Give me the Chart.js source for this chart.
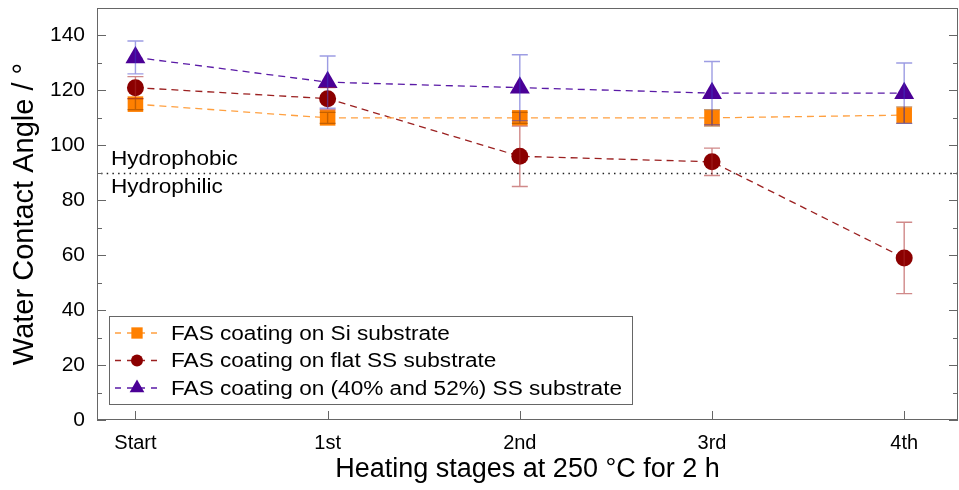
<!DOCTYPE html>
<html>
<head>
<meta charset="utf-8">
<script src="https://cdn.jsdelivr.net/npm/chart.js@4.4.1/dist/chart.umd.min.js"></script>
<style>
  html, body { margin: 0; background: #fff; }
  canvas { display: block; }
</style>
</head>
<body>
<canvas id="wca" width="959" height="490"></canvas>
<script>
// ---- data ----
const stages = ['Start', '1st', '2nd', '3rd', '4th'];
const yTicks = [0, 20, 40, 60, 80, 100, 120, 140];
const yMinor = [10, 30, 50, 70, 90, 110, 130, 150];

const siMean = [115, 110, 110, 110, 111];
const siErr  = [2, 2, 2, 3, 3];
const flatMean = [121, 117, 96, 94, 59];
const flatErr  = [4, 4, 11, 5, 13];
const poroMean = [132, 123, 121, 119, 119];
const poroErr  = [6, 9.5, 12, 11.5, 11];

const seriesNames = [
  'FAS coating on Si substrate',
  'FAS coating on flat SS substrate',
  'FAS coating on (40% and 52%) SS substrate'
];
const threshold = 90;

const FONT = "'Liberation Sans', Arial, sans-serif";
const AXIS = '#666';
const STRETCH = 1.13; // the figure's text is a little wide

function pts(arr) { return arr.map((v, i) => ({ x: i, y: v })); }

const datasets = [
  { label: seriesNames[0], data: pts(siMean), errors: siErr,
    color: '#FF8000', lineColor: '#FFA040', errColor: 'rgba(150,70,0,0.55)',
    pointStyle: 'rect', pointRadius: 11, legendRadius: 8 },
  { label: seriesNames[1], data: pts(flatMean), errors: flatErr,
    color: '#8B0000', lineColor: '#9b2020', errColor: 'rgba(170,40,40,0.55)',
    pointStyle: 'circle', pointRadius: 8.5, legendRadius: 6 },
  { label: seriesNames[2], data: pts(poroMean), errors: poroErr,
    color: '#4B0096', lineColor: '#5a1aa6', errColor: 'rgba(60,60,200,0.5)',
    pointStyle: 'triangle', pointRadius: 11.5, legendRadius: 8.5 }
].map(d => ({
  ...d,
  borderColor: d.lineColor,
  backgroundColor: d.color,
  pointBackgroundColor: d.color,
  pointBorderColor: d.color,
  pointBorderWidth: 0,
  pointHoverRadius: d.pointRadius,
  borderWidth: 1.3,
  borderDash: [7, 5],
  showLine: true,
  tension: 0
}));

function wideText(ctx, text, x, y) {
  ctx.save();
  ctx.translate(x, y);
  ctx.scale(STRETCH, 1);
  ctx.fillText(text, 0, 0);
  ctx.restore();
}

// frame, inward ticks, hydrophobic/hydrophilic divider
const framePlugin = {
  id: 'frame',
  beforeDatasetsDraw(chart) {
    const { ctx, chartArea: a, scales: { x, y } } = chart;
    ctx.save();
    const ty = Math.round(y.getPixelForValue(threshold)) + 0.5;
    ctx.strokeStyle = '#222';
    ctx.lineWidth = 1.6;
    ctx.setLineDash([1.5, 4.2]);
    ctx.beginPath(); ctx.moveTo(a.left + 4, ty); ctx.lineTo(a.right, ty); ctx.stroke();
    ctx.setLineDash([]);
    ctx.fillStyle = '#000';
    ctx.font = '20px ' + FONT;
    ctx.textAlign = 'left';
    ctx.textBaseline = 'alphabetic';
    wideText(ctx, 'Hydrophobic', a.left + 14, ty - 9);
    wideText(ctx, 'Hydrophilic', a.left + 14, ty + 19);

    ctx.strokeStyle = AXIS;
    ctx.lineWidth = 1;
    ctx.strokeRect(a.left + 0.5, a.top + 0.5, a.right - a.left - 1, a.bottom - a.top - 1);
    ctx.beginPath();
    yTicks.forEach(v => {
      const py = Math.round(y.getPixelForValue(v)) + 0.5;
      ctx.moveTo(a.left, py); ctx.lineTo(a.left + 9, py);
      ctx.moveTo(a.right, py); ctx.lineTo(a.right - 9, py);
    });
    yMinor.forEach(v => {
      const py = Math.round(y.getPixelForValue(v)) + 0.5;
      ctx.moveTo(a.left, py); ctx.lineTo(a.left + 5, py);
      ctx.moveTo(a.right, py); ctx.lineTo(a.right - 5, py);
    });
    stages.forEach((s, i) => {
      const px = Math.round(x.getPixelForValue(i)) + 0.5;
      ctx.moveTo(px, a.bottom); ctx.lineTo(px, a.bottom - 9);
    });
    ctx.stroke();
    ctx.restore();
  }
};

const errorBars = {
  id: 'errorBars',
  afterDatasetsDraw(chart) {
    const { ctx, scales: { x, y } } = chart;
    ctx.save();
    ctx.lineWidth = 1.4;
    chart.data.datasets.forEach(ds => {
      ctx.strokeStyle = ds.errColor;
      ds.data.forEach((p, i) => {
        const e = ds.errors[i];
        const px = x.getPixelForValue(p.x);
        const top = y.getPixelForValue(p.y + e);
        const bot = y.getPixelForValue(p.y - e);
        ctx.beginPath();
        ctx.moveTo(px, top); ctx.lineTo(px, bot);
        ctx.moveTo(px - 8, top); ctx.lineTo(px + 8, top);
        ctx.moveTo(px - 8, bot); ctx.lineTo(px + 8, bot);
        ctx.stroke();
      });
    });
    ctx.restore();
  }
};

const boxLegend = {
  id: 'boxLegend',
  afterDraw(chart) {
    const { ctx, chartArea: a } = chart;
    const left = a.left + 12, top = a.bottom - 104, w = 523, h = 88;
    ctx.save();
    ctx.fillStyle = '#fff';
    ctx.fillRect(left, top, w, h);
    ctx.strokeStyle = AXIS;
    ctx.lineWidth = 1;
    ctx.strokeRect(left + 0.5, top + 0.5, w, h);
    chart.data.datasets.forEach((ds, i) => {
      const cy = top + 17 + i * 27.5;
      ctx.strokeStyle = ds.lineColor;
      ctx.lineWidth = 1.3;
      ctx.setLineDash([6, 6]);
      ctx.beginPath(); ctx.moveTo(left + 6, cy); ctx.lineTo(left + 54, cy); ctx.stroke();
      ctx.setLineDash([]);
      ctx.fillStyle = ds.color;
      ctx.strokeStyle = ds.color;
      Chart.helpers.drawPoint(ctx, { pointStyle: ds.pointStyle, radius: ds.legendRadius, rotation: 0, borderWidth: 0 }, left + 28, cy);
      ctx.fillStyle = '#000';
      ctx.font = '20px ' + FONT;
      ctx.textBaseline = 'middle';
      wideText(ctx, ds.label, left + 62, cy + 1);
    });
    ctx.restore();
  }
};

new Chart(document.getElementById('wca'), {
  type: 'line',
  data: { datasets },
  plugins: [framePlugin, errorBars, boxLegend],
  options: {
    responsive: false,
    animation: false,
    devicePixelRatio: 1,
    layout: { autoPadding: false, padding: { left: 0, right: 1, top: 8, bottom: 0 } },
    plugins: { legend: { display: false }, tooltip: { enabled: false } },
    scales: {
      x: {
        type: 'linear',
        min: -0.2,
        max: 4.28,
        afterBuildTicks: s => { s.ticks = stages.map((_, i) => ({ value: i })); },
        afterFit: s => {
          s.height = 70;
          s.paddingLeft = 0; s.paddingRight = 0;
        },
        grid: { display: false, drawTicks: false },
        border: { display: false },
        ticks: {
          padding: 11,
          color: '#000',
          font: { family: FONT, size: 20 },
          callback: v => stages[v]
        },
        title: {
          display: true,
          text: 'Heating stages at 250 °C for 2 h',
          color: '#000',
          font: { family: FONT, size: 27 },
          padding: { top: 0, bottom: 4 }
        }
      },
      y: {
        min: 0,
        max: 150,
        afterBuildTicks: s => { s.ticks = yTicks.map(v => ({ value: v })); },
        afterFit: s => {
          s.width = 97;
          s.paddingTop = 0; s.paddingBottom = 0;
        },
        grid: { display: false, drawTicks: false },
        border: { display: false },
        ticks: {
          padding: 12,
          color: '#000',
          font: { family: FONT, size: 21 }
        },
        title: {
          display: true,
          text: 'Water Contact Angle / °',
          color: '#000',
          font: { family: FONT, size: 29 },
          padding: { top: 8, bottom: 0 }
        }
      }
    }
  }
});
</script>
</body>
</html>
